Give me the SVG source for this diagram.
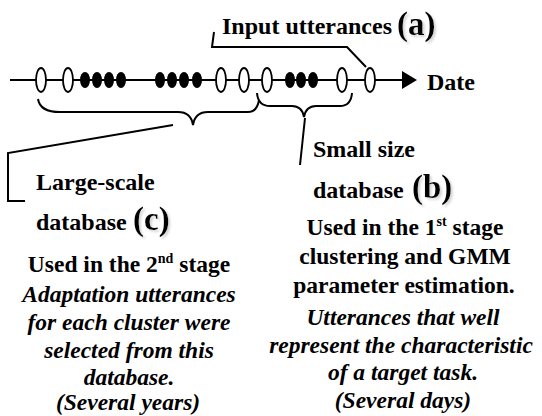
<svg xmlns="http://www.w3.org/2000/svg" width="542" height="416" viewBox="0 0 542 416">
<style>
text{font-family:"Liberation Serif","Times New Roman",serif;font-weight:bold;font-size:23.5px;fill:#000}
.lb{font-size:24px}
.it{font-style:italic}
.c{text-anchor:middle}
.big{font-size:33px;filter:url(#shadow)}
.ln{fill:none;stroke:#000;stroke-width:2}
.o{fill:#fff;stroke:#000;stroke-width:1.8}
.f{fill:#000}
</style>
<defs>
<filter id="shadow" x="-20%" y="-20%" width="150%" height="150%">
<feOffset in="SourceAlpha" dx="2" dy="2" result="off"/>
<feGaussianBlur in="off" stdDeviation="1" result="blur"/>
<feColorMatrix in="blur" type="matrix" values="0 0 0 0 0.6 0 0 0 0 0.6 0 0 0 0 0.6 0 0 0 0.8 0" result="gray"/>
<feMerge><feMergeNode in="gray"/><feMergeNode in="SourceGraphic"/></feMerge>
</filter>
</defs>
<g id="timeline">
<line class="ln" x1="10" y1="80" x2="404" y2="80"/>
<polygon points="402,71 417,80 402,89" fill="#000"/>
<ellipse class="o" cx="41" cy="80" rx="5" ry="12"/>
<ellipse class="o" cx="68" cy="80" rx="5" ry="12"/>
<ellipse class="f" cx="85" cy="80" rx="5" ry="8"/>
<ellipse class="f" cx="97" cy="80" rx="5" ry="8"/>
<ellipse class="f" cx="109" cy="80" rx="5" ry="8"/>
<ellipse class="f" cx="121" cy="80" rx="5" ry="8"/>
<ellipse class="f" cx="160" cy="80" rx="5" ry="8"/>
<ellipse class="f" cx="172" cy="80" rx="5" ry="8"/>
<ellipse class="f" cx="184" cy="80" rx="5" ry="8"/>
<ellipse class="f" cx="197" cy="80" rx="5" ry="8"/>
<ellipse class="o" cx="221" cy="80" rx="5" ry="12"/>
<ellipse class="o" cx="244" cy="80" rx="5" ry="12"/>
<ellipse class="o" cx="267" cy="80" rx="5" ry="12"/>
<ellipse class="f" cx="290" cy="80" rx="5" ry="8"/>
<ellipse class="f" cx="301" cy="80" rx="5" ry="8"/>
<ellipse class="f" cx="313" cy="80" rx="5" ry="8"/>
<ellipse class="o" cx="342" cy="80" rx="5" ry="12"/>
<ellipse class="o" cx="370" cy="80" rx="5" ry="12"/>
<text class="lb" x="427" y="90">Date</text>
</g>
<g id="connectors">
<path class="ln" d="M38,99 Q40,112 60,112 L178,112 Q191,112 193,125 Q195,112 208,112 L248,112 Q257,112 259,100"/>
<path class="ln" d="M257,93 Q258,106 270,106 L292,106 Q302,106 304,117 Q306,106 316,106 L340,106 Q351,106 352,93"/>
<polyline class="ln" points="173,125 8,153 8,201 25,201"/>
<polyline class="ln" points="305,118 300,165"/>
<polyline class="ln" points="214,32 212,47 347,47 366,67"/>
</g>
<g id="label-a">
<text class="lb" x="222" y="34">Input utterances</text>
<text class="big" x="397" y="35">(a)</text>
</g>
<g id="label-b">
<text class="lb" x="313" y="157">Small size</text>
<text class="lb" x="313" y="198">database</text>
<text class="big" x="412" y="198">(b)</text>
<text class="c" x="405" y="235">Used in the 1<tspan font-size="14" dy="-9">st</tspan><tspan dy="9"> stage</tspan></text>
<text class="c" x="405" y="264">clustering and GMM</text>
<text class="c" x="404" y="293">parameter estimation.</text>
<text class="c it" x="403" y="325">Utterances that well</text>
<text class="c it" x="401" y="353">represent the characteristic</text>
<text class="c it" x="403" y="380">of a target task.</text>
<text class="c it" x="403" y="408">(Several days)</text>
</g>
<g id="label-c">
<text class="lb" x="36" y="190">Large-scale</text>
<text class="lb" x="36" y="230">database</text>
<text class="big" x="133" y="230">(c)</text>
<text class="c" x="129" y="272">Used in the 2<tspan font-size="14" dy="-9">nd</tspan><tspan dy="9"> stage</tspan></text>
<text class="c it" x="129" y="302">Adaptation utterances</text>
<text class="c it" x="129" y="330">for each cluster were</text>
<text class="c it" x="129" y="358">selected from this</text>
<text class="c it" x="129" y="385">database.</text>
<text class="c it" x="128" y="410">(Several years)</text>
</g>
</svg>
